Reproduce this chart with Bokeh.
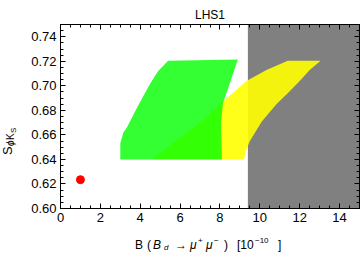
from bokeh.plotting import figure
from bokeh.models import (Range1d, LinearAxis, SingleIntervalTicker, NumeralTickFormatter,
                          BoxAnnotation, Div)
from bokeh.layouts import row, column
from bokeh.embed import file_html
from bokeh.resources import INLINE

# ---- data ----
title_text = "LHS1"
# outline of the green scan region
green_x = [3.0, 3.0, 3.15, 3.33, 3.83, 4.5, 4.9, 5.4, 8.9, 8.15, 8.05, 8.1]
green_y = [0.640, 0.653, 0.662, 0.666, 0.682, 0.702, 0.712, 0.7205, 0.7215, 0.6855, 0.670, 0.640]
# outline of the yellow scan region
yellow_x = [4.6, 6.0, 7.0, 8.0, 9.33, 10.33, 11.4, 13.05, 12.5, 12.0, 11.4, 10.83, 10.1, 9.5, 9.3, 9.2]
yellow_y = [0.640, 0.658, 0.670, 0.685, 0.704, 0.713, 0.7205, 0.7205, 0.713, 0.704, 0.694, 0.685, 0.671, 0.655, 0.647, 0.640]
# Standard-model point
sm_x = [1.0]
sm_y = [0.6235]
# experimentally excluded region (B above the bound)
excluded_from = 9.4
x_lim = (0, 15)
y_lim = (0.60, 0.75)

FONT = "Liberation Sans"

p = figure(width=334, height=228, output_backend="svg", toolbar_location=None,
           x_range=Range1d(*x_lim), y_range=Range1d(*y_lim),
           min_border_left=34, min_border_right=1, min_border_top=24, min_border_bottom=20,
           title=title_text)
p.title.text_font = FONT
p.title.text_font_size = "12px"
p.title.text_font_style = "normal"
p.title.align = "center"
p.title.text_color = "black"
p.title.standoff = 6
p.xgrid.visible = False
p.ygrid.visible = False
p.outline_line_color = "black"
p.background_fill_color = "white"
p.border_fill_color = "white"

p.add_layout(BoxAnnotation(left=excluded_from, fill_color="#808080", fill_alpha=1.0,
                           line_color=None, level="underlay"))

p.patch(yellow_x, yellow_y, fill_color="#ffff00", fill_alpha=0.9, line_color=None)
p.patch(green_x, green_y, fill_color="#00ff00", fill_alpha=0.8, line_color=None)
p.scatter(sm_x, sm_y, size=8, color="#ff0000")

xt = SingleIntervalTicker(interval=2, num_minor_ticks=4)
yt = SingleIntervalTicker(interval=0.02, num_minor_ticks=4)

def style(ax, labels=True):
    ax.major_tick_in = 5
    ax.major_tick_out = 0
    ax.minor_tick_in = 3
    ax.minor_tick_out = 0
    ax.axis_line_color = "black"
    ax.major_tick_line_color = "black"
    ax.minor_tick_line_color = "black"
    ax.major_label_text_font = FONT
    ax.axis_label = None
    if labels:
        ax.major_label_text_font_size = "13px"
        ax.major_label_text_color = "black"
        ax.major_label_standoff = 4
    else:
        ax.major_label_text_font_size = "1px"
        ax.major_label_text_color = None
        ax.major_label_standoff = 0

p.xaxis.ticker = xt
p.yaxis.ticker = yt
p.yaxis.formatter = NumeralTickFormatter(format="0.00")
style(p.xaxis[0])
style(p.yaxis[0])

ax_r = LinearAxis(ticker=yt)
style(ax_r, labels=False)
p.add_layout(ax_r, "right")
ax_t = LinearAxis(ticker=xt)
style(ax_t, labels=False)
p.add_layout(ax_t, "above")

def piece(text, left, top, size, italic=False):
    st = "font-style:italic;" if italic else ""
    return (f'<span style="position:absolute;left:{left}px;top:{top}px;font-size:{size}px;'
            f'line-height:1;white-space:nowrap;{st}">{text}</span>')

# x axis label  B(B_d -> mu+ mu-) [10^-10]
x_pieces = [
    ("B", 0, 0, 12, False), ("(", 12, 0, 12, False), ("B", 18, 0, 12, True),
    ("d", 29, 5, 8, True), ("\u2192", 40, 0, 12, False), ("\u03bc", 55, 0, 12, True),
    ("+", 63, -2, 8, False), ("\u03bc", 71, 0, 12, True), ("\u2212", 79, -2, 8, False),
    (")", 89, 0, 12, False), ("[10", 102, 0, 12, False), ("\u221210", 120, -2, 8, False),
    ("]", 143, 0, 12, False),
]
x_html = (f'<div style="position:relative;width:334px;height:29px;font-family:{FONT};color:black;">'
          f'<div style="position:absolute;left:109px;top:11px;">'
          + "".join(piece(*a) for a in x_pieces) + '</div></div>')

# y axis label  S_{phi K_S}, rotated to read upward
y_pieces = [
    ("S", 0, 0, 13, False), ("\u03d5", 9, 5, 10, True), ("K", 15, 5, 10, False),
    ("S", 22, 9, 8, False),
]
y_html = (f'<div style="position:relative;width:26px;height:257px;font-family:{FONT};color:black;">'
          f'<div style="position:absolute;left:1px;top:155px;transform-origin:0 0;'
          f'transform:rotate(-90deg);width:40px;height:20px;">'
          + "".join(piece(*a) for a in y_pieces) + '</div></div>')

xdiv = Div(text=x_html, width=334, height=29, margin=(0, 0, 0, 0))
ydiv = Div(text=y_html, width=26, height=257, margin=(0, 0, 0, 0))

layout = row(ydiv, column(p, xdiv, spacing=0), spacing=0)

open("out.html", "w").write(file_html(layout, INLINE))
